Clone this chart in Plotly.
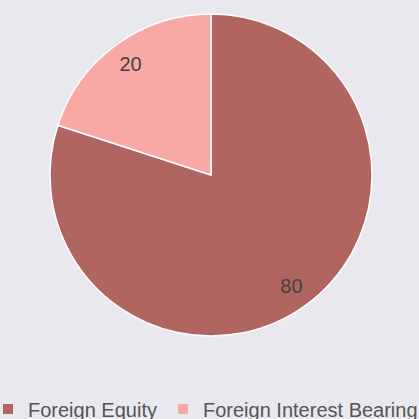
import plotly.graph_objects as go

labels = ["Foreign Equity", "Foreign Interest Bearing"]
values = [80, 20]
colors = ["#b06561", "#f8a8a5"]

FONT = "Liberation Sans, Arial"
W, H = 419, 419
B = 40  # bottom margin holding the legend
PH = H - B
dom_x = [50 / W, 372 / W]
dom_y = [1 - 336 / PH, 1 - 14 / PH]

fig = go.Figure()
fig.add_trace(go.Pie(
    labels=labels, values=values, sort=False, direction="clockwise", rotation=0,
    marker=dict(colors=colors, line=dict(color="white", width=1.5)),
    textinfo="none", domain=dict(x=dom_x, y=dom_y), showlegend=False,
))
# transparent ring used only to place the value labels near the rim
fig.add_trace(go.Pie(
    labels=labels, values=values, sort=False, direction="clockwise", rotation=0,
    hole=0.7, showlegend=False, hoverinfo="skip",
    marker=dict(colors=["rgba(0,0,0,0)"] * 2, line=dict(width=0)),
    textinfo="value", textposition="inside", insidetextorientation="horizontal",
    textfont=dict(size=20, color="#444444", family=FONT),
    domain=dict(x=dom_x, y=dom_y),
))
# legend entries (one legend per entry so they sit on one row like the reference)
legend_ids = ["legend", "legend2"]
for lab, col, lid in zip(labels, colors, legend_ids):
    fig.add_trace(go.Scatter(
        x=[None], y=[None], mode="markers", name=lab, legend=lid, hoverinfo="skip",
        marker=dict(symbol="square", size=10, color=col),
    ))

leg_common = dict(orientation="h", xanchor="left", y=-0.0277, yanchor="top",
                  font=dict(size=20, color="#555555", family=FONT),
                  bgcolor="rgba(0,0,0,0)")
fig.update_layout(
    width=W, height=H,
    paper_bgcolor="#e8e8ee", plot_bgcolor="#e8e8ee",
    margin=dict(l=0, r=0, t=0, b=B, autoexpand=False),
    font=dict(family=FONT, color="#555555"),
    xaxis=dict(visible=False), yaxis=dict(visible=False),
    legend=dict(x=-12 / W, **leg_common),
    legend2=dict(x=163 / W, **leg_common),
)
fig.write_html("out.html", config={"displayModeBar": False},
               post_script="document.body.style.margin='0px';")
